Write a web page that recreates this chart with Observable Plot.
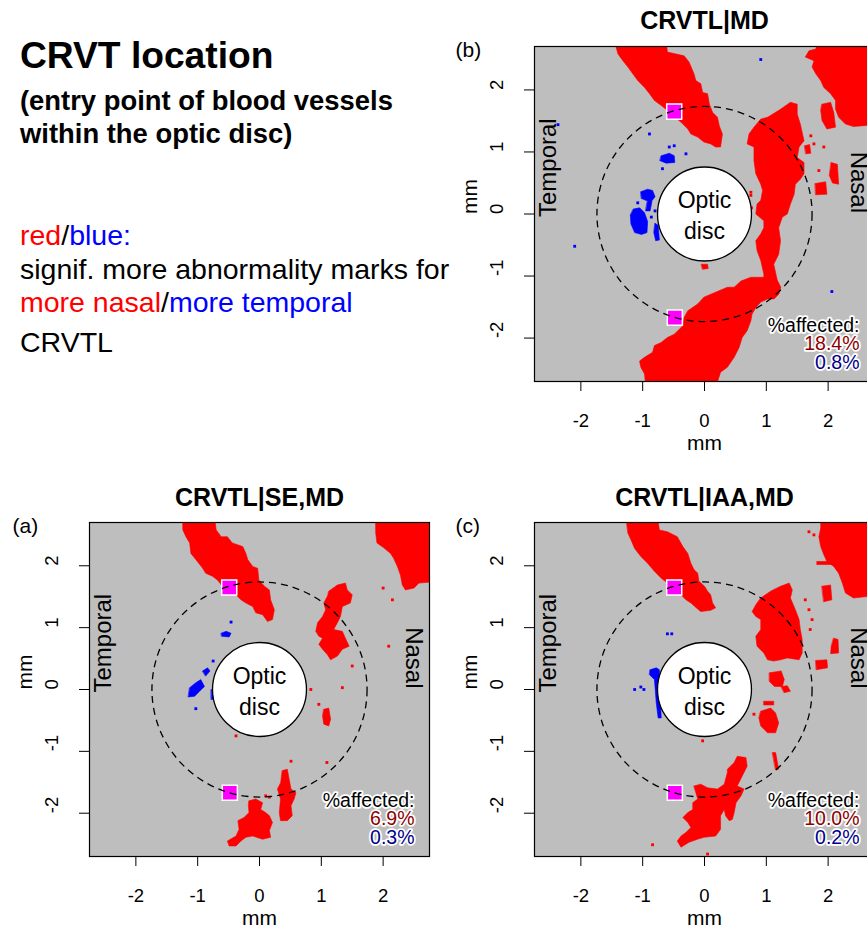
<!DOCTYPE html>
<html><head><meta charset="utf-8">
<script src="https://cdn.jsdelivr.net/npm/d3@7"></script>
<script src="https://cdn.jsdelivr.net/npm/@observablehq/plot@0.6"></script>
<style>
body{margin:0;background:#fff;font-family:"Liberation Sans",Arial,Helvetica,sans-serif;}
#wrap{position:relative;width:867px;height:930px;overflow:hidden;background:#fff;}
.t{position:absolute;left:20px;white-space:nowrap;line-height:1;color:#000;}
.p{position:absolute;overflow:visible;}
.p svg{max-width:none !important;}
</style></head><body><div id="wrap">
<div class="t" style="top:37px;font-size:37.2px;font-weight:bold">CRVT location</div>
<div class="t" style="top:87px;font-size:27.4px;font-weight:bold">(entry point of blood vessels</div>
<div class="t" style="top:120px;font-size:27.4px;font-weight:bold">within the optic disc)</div>
<div class="t" style="top:221px;font-size:28.5px"><span style="color:#ff0000">red</span>/<span style="color:#0000ff">blue:</span></div>
<div class="t" style="top:255px;font-size:28.5px">signif. more abnormality marks for</div>
<div class="t" style="top:288px;font-size:28.5px"><span style="color:#ff0000">more nasal</span>/<span style="color:#0000ff">more temporal</span></div>
<div class="t" style="top:328px;font-size:28.5px">CRVTL</div>
</div>
<script>
// ---------- data ----------
const panelKeys = ["a", "b", "c"];
const panelTitles = ["CRVTL|SE,MD", "CRVTL|MD", "CRVTL|IAA,MD"];
const panelLetters = ["(a)", "(b)", "(c)"];
const pctRed = [6.9, 18.4, 10.0];
const pctBlue = [0.3, 0.8, 0.2];
const xTicks = [-2, -1, 0, 1, 2];
const yTicks = [-2, -1, 0, 1, 2];
const discRadius = 0.76;      // optic disc (mm)
const ringRadius = 1.74;      // dashed ring (mm)
const crvtX = [-0.49, -0.48];
const crvtY = [1.65, -1.67];

// red / blue significance regions (polygon outlines, mm)
const redA = [
  [[-1.24,2.8],[-0.73,2.8],[-0.70,2.58],[-0.62,2.47],[-0.52,2.47],[-0.44,2.37],[-0.27,2.31],[-0.22,2.20],[-0.19,2.10],[-0.11,1.99],[-0.03,1.96],[-0.01,1.77],[0.08,1.67],[0.16,1.61],[0.18,1.45],[0.24,1.29],[0.21,1.13],[0.13,1.10],[0.05,1.21],[-0.06,1.24],[-0.11,1.34],[-0.22,1.40],[-0.30,1.45],[-0.38,1.53],[-0.60,1.67],[-0.68,1.77],[-0.76,1.83],[-0.87,1.88],[-0.92,1.96],[-1.03,2.10],[-1.11,2.20],[-1.13,2.37],[-1.19,2.47],[-1.24,2.58]],
  [[1.88,2.8],[2.9,2.8],[2.9,1.75],[2.58,1.72],[2.50,1.64],[2.36,1.61],[2.31,1.69],[2.28,1.85],[2.23,1.99],[2.17,2.12],[2.12,2.20],[2.01,2.29],[1.90,2.37],[1.88,2.53]],
  [[1.12,1.59],[1.26,1.69],[1.39,1.72],[1.42,1.61],[1.50,1.53],[1.47,1.40],[1.34,1.34],[1.31,1.18],[1.26,1.08],[1.20,0.97],[1.34,0.94],[1.39,0.83],[1.45,0.70],[1.34,0.65],[1.26,0.54],[1.15,0.48],[1.10,0.56],[1.02,0.65],[0.96,0.73],[1.02,0.83],[0.96,0.86],[0.91,0.94],[0.94,1.08],[1.02,1.18],[1.07,1.29],[1.04,1.40],[1.10,1.51]],
  [[1.04,-0.32],[1.12,-0.30],[1.15,-0.48],[1.12,-0.59],[1.04,-0.56],[1.02,-0.43]],
  [[-0.17,-1.80],[-0.06,-1.77],[0.05,-1.83],[0.02,-1.94],[0.10,-1.99],[0.16,-2.04],[0.21,-2.15],[0.16,-2.28],[0.18,-2.39],[0.05,-2.42],[-0.11,-2.37],[-0.22,-2.39],[-0.30,-2.45],[-0.38,-2.53],[-0.49,-2.53],[-0.52,-2.45],[-0.38,-2.37],[-0.33,-2.26],[-0.35,-2.12],[-0.25,-2.07],[-0.17,-1.99],[-0.18,-1.88]],
  [[0.37,-1.31],[0.45,-1.29],[0.48,-1.45],[0.51,-1.61],[0.59,-1.67],[0.56,-1.77],[0.51,-1.88],[0.53,-2.04],[0.45,-2.12],[0.34,-2.12],[0.32,-1.99],[0.34,-1.77],[0.29,-1.61],[0.34,-1.51]]
];
const blueA = [
  [[-0.62,0.91],[-0.54,0.94],[-0.46,0.91],[-0.49,0.85],[-0.61,0.86]],
  [[-1.13,0.03],[-1.03,0.11],[-0.95,0.16],[-0.89,0.05],[-0.97,-0.03],[-1.05,-0.11],[-1.15,-0.12]],
  [[-0.92,0.30],[-0.84,0.35],[-0.80,0.30],[-0.87,0.22]],
  [[-0.78,0],[-0.74,0],[-0.74,-0.16],[-0.78,-0.16]]
];
const redSpecksA = [[2.00,1.64],[2.15,1.45],[2.09,0.70],[1.50,0.38],[1.34,0.03],[0.83,0],[0.96,-0.24],[0.51,-1.16],[1.09,-1.18],[-0.38,-0.75],[0.16,-1.74],[0.10,-1.72]];
const blueSpecksA = [[-0.46,1.09],[-1.03,-0.31],[-0.75,0.46]];

const redB = [
  [[-1.40,2.8],[-0.62,2.8],[-0.60,2.61],[-0.33,2.55],[-0.25,2.45],[-0.17,2.26],[-0.14,2.15],[-0.06,2.10],[-0.03,1.96],[0.05,1.94],[0.08,1.77],[0.13,1.64],[0.21,1.56],[0.24,1.42],[0.29,1.29],[0.26,1.08],[0.18,1.08],[0.10,1.13],[-0.01,1.16],[-0.11,1.24],[-0.22,1.29],[-0.27,1.37],[-0.38,1.48],[-0.44,1.53],[-0.60,1.67],[-0.70,1.75],[-0.81,1.83],[-0.89,1.94],[-0.97,2.04],[-1.08,2.15],[-1.16,2.26],[-1.24,2.37],[-1.32,2.47],[-1.40,2.58],[-1.46,2.8]],
  [[1.82,2.8],[2.9,2.8],[2.9,1.45],[2.41,1.41],[2.28,1.45],[2.17,1.56],[2.12,1.69],[2.12,1.83],[2.04,1.94],[1.93,2.04],[1.88,2.15],[1.80,2.26],[1.74,2.37],[1.77,2.47],[1.63,2.53],[1.69,2.63],[1.80,2.66]],
  [[1.90,1.77],[2.04,1.80],[2.09,1.64],[2.12,1.40],[1.98,1.37],[1.90,1.51],[1.88,1.67]],
  [[1.23,1.69],[1.39,1.80],[1.50,1.77],[1.50,1.61],[1.55,1.45],[1.61,1.18],[1.53,1.08],[1.50,0.91],[1.61,0.83],[1.61,0.65],[1.55,0.56],[1.47,0.48],[1.45,0.32],[1.39,0.16],[1.34,0],[1.26,-0.05],[1.20,-0.22],[1.23,-0.43],[1.20,-0.65],[1.12,-0.81],[1.18,-1.08],[1.23,-1.18],[1.20,-1.29],[1.12,-1.37],[0.96,-1.18],[0.96,-0.97],[0.91,-0.75],[0.85,-0.59],[0.83,-0.43],[0.91,-0.32],[0.96,-0.22],[0.96,-0.11],[0.83,0],[0.85,0.16],[0.91,0.22],[0.94,0.38],[0.91,0.48],[0.83,0.65],[0.80,0.86],[0.80,1.08],[0.69,1.13],[0.72,1.29],[0.80,1.40],[0.91,1.53],[1.02,1.56]],
  [[1.02,-1.02],[0.75,-1.02],[0.59,-1.08],[0.48,-1.18],[0.37,-1.18],[0.18,-1.26],[-0.01,-1.34],[-0.11,-1.45],[-0.27,-1.56],[-0.33,-1.67],[-0.35,-1.80],[-0.49,-1.94],[-0.60,-1.99],[-0.70,-2.07],[-0.81,-2.12],[-0.84,-2.23],[-0.97,-2.31],[-1.05,-2.37],[-1.03,-2.47],[-0.97,-2.58],[-0.95,-2.8],[0.18,-2.8],[0.26,-2.55],[0.37,-2.47],[0.48,-2.31],[0.56,-2.15],[0.61,-1.99],[0.69,-1.88],[0.75,-1.72],[0.77,-1.61],[0.83,-1.51],[0.91,-1.42],[1.02,-1.37],[1.12,-1.37],[1.20,-1.29],[1.23,-1.18],[1.18,-1.08]],
  [[1.79,0.49],[1.96,0.52],[1.98,0.32],[1.80,0.31]],
  [[2.05,0.83],[2.15,0.80],[2.17,0.48],[2.07,0.50],[2.02,0.62]],
  [[1.62,1.10],[1.70,1.12],[1.72,0.98],[1.64,0.97]],
  [[-0.05,-0.81],[0.05,-0.81],[0.06,-0.88],[-0.03,-0.89]]
];
const blueB = [
  [[-1.15,0.08],[-1.05,0.10],[-0.97,0.02],[-0.92,-0.12],[-0.93,-0.30],[-1.02,-0.33],[-1.13,-0.30],[-1.19,-0.16],[-1.20,-0.02]],
  [[-1.03,0.36],[-0.92,0.40],[-0.84,0.38],[-0.80,0.28],[-0.86,0.20],[-0.95,0.22],[-1.02,0.25]],
  [[-0.92,0.22],[-0.85,0.20],[-0.88,0.05],[-0.95,0.05]],
  [[-0.80,-0.15],[-0.75,-0.18],[-0.73,-0.42],[-0.79,-0.43],[-0.82,-0.30]],
  [[-0.70,0.94],[-0.57,0.98],[-0.49,0.94],[-0.48,0.83],[-0.62,0.82],[-0.72,0.86]]
];
const redSpecksB = [[1.72,1.26],[1.77,1.13],[1.93,1.08],[0.75,0.30],[0.76,0.10],[1.85,0.70],[0.75,0.35]];
const blueSpecksB = [[-0.49,1.10],[-0.57,1.08],[-0.89,1.29],[-0.30,0.97],[-2.37,1.44],[-2.10,-0.52],[0.91,2.49],[2.06,-1.25],[-0.68,0.73],[-0.86,-0.05],[-0.80,0.05],[-1.08,0.18]];

const redC = [
  [[-1.27,2.8],[-0.76,2.8],[-0.73,2.58],[-0.60,2.55],[-0.44,2.47],[-0.35,2.31],[-0.27,2.20],[-0.22,2.04],[-0.17,1.94],[-0.11,1.88],[-0.09,1.75],[0,1.67],[0.05,1.59],[0.10,1.53],[0.13,1.40],[0.18,1.32],[0.10,1.28],[-0.06,1.26],[-0.11,1.30],[-0.22,1.40],[-0.30,1.45],[-0.38,1.53],[-0.49,1.61],[-0.60,1.72],[-0.70,1.80],[-0.81,1.91],[-0.92,2.04],[-1.03,2.15],[-1.13,2.28],[-1.19,2.42],[-1.24,2.53]],
  [[1.88,2.8],[2.9,2.8],[2.9,1.53],[2.41,1.48],[2.28,1.56],[2.23,1.72],[2.17,1.88],[2.09,1.99],[1.98,2.07],[1.93,2.18],[1.88,2.31],[1.85,2.47],[1.88,2.61]],
  [[1.82,2.07],[2.12,2.07],[2.12,2.02],[1.82,2.02]],
  [[1.90,1.67],[2.04,1.69],[2.06,1.45],[1.93,1.42]],
  [[0.91,1.48],[1.07,1.59],[1.23,1.67],[1.37,1.72],[1.42,1.61],[1.39,1.48],[1.47,1.29],[1.53,1.13],[1.55,0.97],[1.58,0.81],[1.58,0.59],[1.53,0.48],[1.34,0.51],[1.23,0.48],[1.12,0.46],[1.02,0.48],[0.96,0.59],[0.85,0.70],[0.83,0.86],[0.91,0.97],[0.91,1.13],[0.83,1.18],[0.77,1.26],[0.83,1.37]],
  [[1.05,0.27],[1.24,0.30],[1.29,0.16],[1.26,0.05],[1.13,0.05],[1.05,0.13]],
  [[1.24,0.05],[1.34,0.06],[1.39,-0.03],[1.29,-0.05]],
  [[0.91,-0.35],[1.07,-0.30],[1.15,-0.38],[1.20,-0.54],[1.15,-0.70],[1.02,-0.70],[0.91,-0.59],[0.88,-0.46]],
  [[0.96,-0.19],[1.12,-0.19],[1.12,-0.25],[0.96,-0.25]],
  [[1.10,-1.02],[1.15,-1.02],[1.20,-1.29],[1.15,-1.29]],
  [[1.80,0.47],[1.98,0.48],[1.99,0.35],[1.81,0.32]],
  [[2.09,0.83],[2.16,0.81],[2.17,0.59],[2.04,0.58],[2.05,0.70]],
  [[-0.17,-1.56],[-0.06,-1.53],[0.05,-1.59],[0.21,-1.61],[0.32,-1.53],[0.37,-1.34],[0.37,-1.29],[0.48,-1.18],[0.53,-1.08],[0.67,-1.10],[0.69,-1.24],[0.61,-1.40],[0.53,-1.56],[0.64,-1.61],[0.59,-1.72],[0.51,-1.83],[0.48,-1.99],[0.45,-2.10],[0.40,-2.12],[0.34,-2.04],[0.32,-1.94],[0.26,-2.04],[0.26,-2.26],[0.18,-2.37],[-0.01,-2.39],[-0.11,-2.42],[-0.25,-2.47],[-0.38,-2.55],[-0.44,-2.45],[-0.38,-2.37],[-0.30,-2.31],[-0.22,-2.23],[-0.27,-2.15],[-0.35,-2.07],[-0.27,-1.99],[-0.19,-1.94],[-0.19,-1.83],[-0.11,-1.77],[-0.14,-1.67]]
];
const blueC = [
  [[-0.88,0.32],[-0.78,0.35],[-0.73,0.32],[-0.70,-0.46],[-0.75,-0.46],[-0.78,-0.22],[-0.81,0.16],[-0.89,0.24]]
];
const redSpecksC = [[1.69,2.55],[1.77,2.50],[1.63,1.45],[1.69,1.29],[1.74,1.13],[1.71,0.97],[-0.03,-0.83],[-0.84,-2.51],[0.05,-2.66],[0.80,-0.40]];
const blueSpecksC = [[-1.13,0],[-1.03,0.04],[-0.98,0],[-0.60,0.90],[-0.53,0.90]];

const redByPanel = {a: redA, b: redB, c: redC};
const blueByPanel = {a: blueA, b: blueB, c: blueC};
const redSpecks = {a: redSpecksA, b: redSpecksB, c: redSpecksC};
const blueSpecks = {a: blueSpecksA, b: blueSpecksB, c: blueSpecksC};

// ---------- layout (pixels) ----------
const layout = {
  a: {left: 0,   top: 470, width: 440, height: 460, mL: 89, mT: 52, mR: 11, mB: 74, titleDy: -17},
  b: {left: 440, top: 0,   width: 444, height: 470, mL: 94, mT: 46, mR: 10, mB: 89, titleDy: -18},
  c: {left: 440, top: 470, width: 444, height: 460, mL: 94, mT: 52, mR: 10, mB: 74, titleDy: -17}
};
const FONT = '"Liberation Sans", Arial, Helvetica, sans-serif';
const flatten = (polys) => polys.flatMap((p, i) => p.map(([x, y]) => ({g: i, x, y})));
const pts = (arr) => arr.map(([x, y]) => ({x, y}));

panelKeys.forEach((k, i) => {
  const L = layout[k];
  const frameW = L.width - L.mL - L.mR;
  const chart = Plot.plot({
    width: L.width, height: L.height,
    marginLeft: L.mL, marginRight: L.mR, marginTop: L.mT, marginBottom: L.mB,
    x: {domain: [-2.75, 2.75]},
    y: {domain: [-2.7, 2.7]},
    r: {type: "linear", domain: [0, 2.75], range: [0, frameW / 2]},
    style: {fontFamily: FONT, background: "transparent", overflow: "visible", color: "black", maxWidth: "none"},
    marks: [
      Plot.frame({fill: "#bebebe", stroke: "none"}),
      Plot.line(flatten(redByPanel[k]), {x: "x", y: "y", z: "g", fill: "#ff0000", stroke: "#ff0000", strokeWidth: 0.6, curve: "linear-closed", clip: true}),
      Plot.line(flatten(blueByPanel[k]), {x: "x", y: "y", z: "g", fill: "#0000ff", stroke: "#0000ff", strokeWidth: 0.6, curve: "linear-closed", clip: true}),
      Plot.dot(pts(redSpecks[k]), {x: "x", y: "y", symbol: "square", r: 1.6, fill: "#ff0000"}),
      Plot.dot(pts(blueSpecks[k]), {x: "x", y: "y", symbol: "square", r: 1.6, fill: "#0000ff"}),
      Plot.text(["Temporal"], {text: d => d, frameAnchor: "left", rotate: -90, dx: 14, dy: 3, fontSize: 24}),
      Plot.text(["Nasal"], {text: d => d, frameAnchor: "right", rotate: 90, dx: -16, dy: -1, fontSize: 24}),
      Plot.dot([{x: 0, y: 0, r: discRadius}], {x: "x", y: "y", r: "r", fill: "white", stroke: "black", strokeWidth: 1.3}),
      Plot.dot(crvtX.map((x, j) => ({x, y: crvtY[j]})), {x: "x", y: "y", symbol: "square", r: 8.5, fill: "#ff00ff", stroke: "white", strokeWidth: 1.5}),
      Plot.dot([{x: 0, y: 0, r: ringRadius}], {x: "x", y: "y", r: "r", fill: "none", stroke: "black", strokeWidth: 1.3, strokeDasharray: "7,5"}),
      Plot.text(["Optic\ndisc"], {text: d => d, x: () => 0, y: () => 0, fontSize: 23, lineHeight: 1.35}),
      Plot.text(["%affected:"], {text: d => d, frameAnchor: "bottom-right", textAnchor: "end", lineAnchor: "bottom", dx: -15, dy: -50, fontSize: 19.5, fill: "black", stroke: "white", strokeWidth: 3.5, paintOrder: "stroke"}),
      Plot.text([pctRed[i]], {text: d => d.toFixed(1) + "%", frameAnchor: "bottom-right", textAnchor: "end", lineAnchor: "bottom", dx: -15, dy: -31.5, fontSize: 19.5, fill: "#8b0000", stroke: "white", strokeWidth: 3.5, paintOrder: "stroke"}),
      Plot.text([pctBlue[i]], {text: d => d.toFixed(1) + "%", frameAnchor: "bottom-right", textAnchor: "end", lineAnchor: "bottom", dx: -15, dy: -13, fontSize: 19.5, fill: "#00008b", stroke: "white", strokeWidth: 3.5, paintOrder: "stroke"}),
      Plot.axisX({ticks: xTicks, tickSize: 10, tickPadding: 22, tickFormat: d => String(d), fontSize: 18.5, label: null}),
      Plot.axisY({ticks: yTicks, tickSize: 10, tickFormat: () => "", label: null}),
      Plot.text(yTicks, {y: d => d, text: d => String(d), frameAnchor: "left", rotate: -90, dx: -37, fontSize: 18.5}),
      Plot.text(["mm"], {text: d => d, frameAnchor: "bottom", lineAnchor: "bottom", dy: 68, fontSize: 21}),
      Plot.text(["mm"], {text: d => d, frameAnchor: "left", rotate: -90, dx: -64, fontSize: 21}),
      Plot.text([panelTitles[i]], {text: d => d, frameAnchor: "top", lineAnchor: "bottom", dy: L.titleDy, fontSize: 25, fontWeight: "bold"}),
      Plot.text([panelLetters[i]], {text: d => d, frameAnchor: "top-left", textAnchor: "start", lineAnchor: "bottom", dx: k === "a" ? -77 : -79, dy: 10, fontSize: 21}),
      Plot.frame({stroke: "black", strokeWidth: 1.2})
    ]
  });
  chart.style.maxWidth = "none";
  const holder = document.createElement("div");
  holder.className = "p";
  holder.style.left = L.left + "px";
  holder.style.top = L.top + "px";
  holder.style.width = L.width + "px";
  holder.style.height = L.height + "px";
  holder.appendChild(chart);
  document.getElementById("wrap").appendChild(holder);
});
</script>
</body></html>
